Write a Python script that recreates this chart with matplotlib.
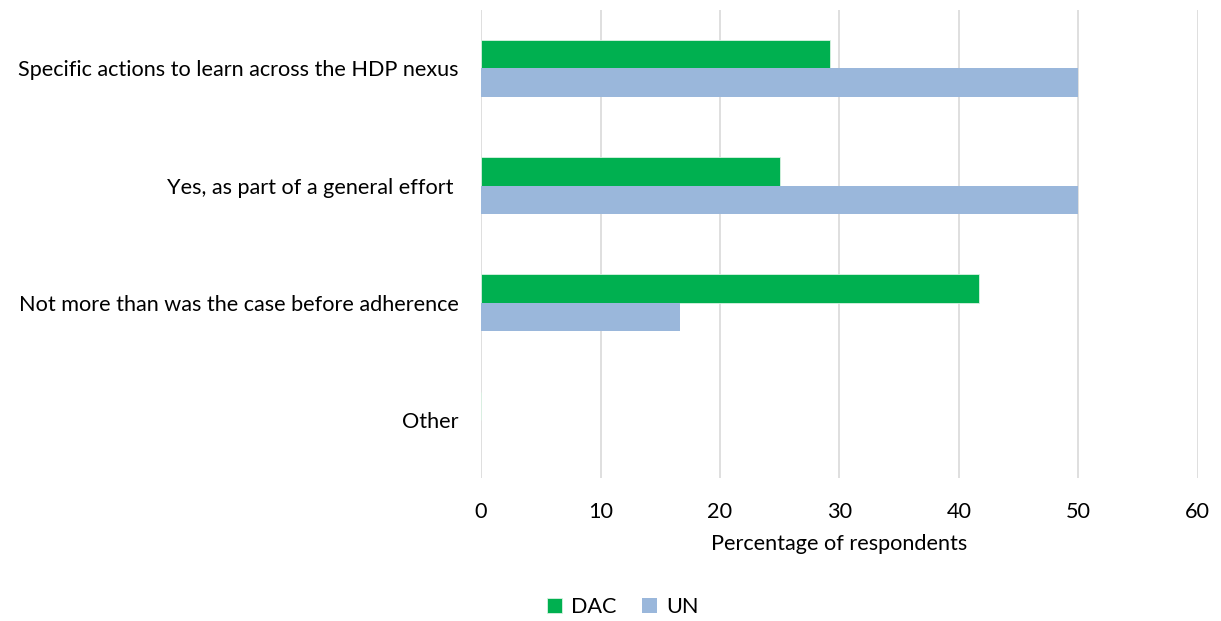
import matplotlib
matplotlib.use("Agg")
import matplotlib.pyplot as plt
import numpy as np

categories = ["Specific actions to learn across the HDP nexus",
              "Yes, as part of a general effort ",
              "Not more than was the case before adherence",
              "Other"]
dac = [29.17, 25.0, 41.67, 0.0]
un = [50.0, 50.0, 16.67, 0.0]
xticks = [0, 10, 20, 30, 40, 50, 60]

plt.rcParams['font.family'] = ['Lato', 'DejaVu Sans']
FS = 15.6

fig = plt.figure(figsize=(12.21, 6.21), dpi=100)
ax = fig.add_axes([0.394, 0.230, 0.587, 0.754])

n = len(categories)
y = np.arange(n)
h = 0.24
ax.barh(y - h/2, dac, height=h, color='#00B050', edgecolor='#d9f2e2', linewidth=0.6, label='DAC', zorder=3)
ax.barh(y + h/2, un, height=h, color='#9AB7DB', label='UN', zorder=3)

ax.set_ylim(n - 0.5, -0.5)
ax.set_xlim(0, 60)
ax.set_xticks(xticks)
ax.set_yticks(y)
ax.set_yticklabels(categories, fontsize=FS)
ax.tick_params(axis='x', labelsize=FS, length=0, pad=17)
ax.tick_params(axis='y', length=0, pad=16)
ax.grid(axis='x', color='#d9d9d9', linewidth=1.2, zorder=0)
for s in ax.spines.values():
    s.set_visible(False)
ax.set_xlabel("Percentage of respondents", fontsize=FS, labelpad=9)

handles, labels = ax.get_legend_handles_labels()
fig.legend(handles, labels, loc='center', bbox_to_anchor=(0.51, 0.022), ncol=2,
           frameon=False, fontsize=FS, handlelength=0.7, handleheight=0.7,
           handletextpad=0.4, columnspacing=1.2)

fig.savefig("out.png", dpi=100)
